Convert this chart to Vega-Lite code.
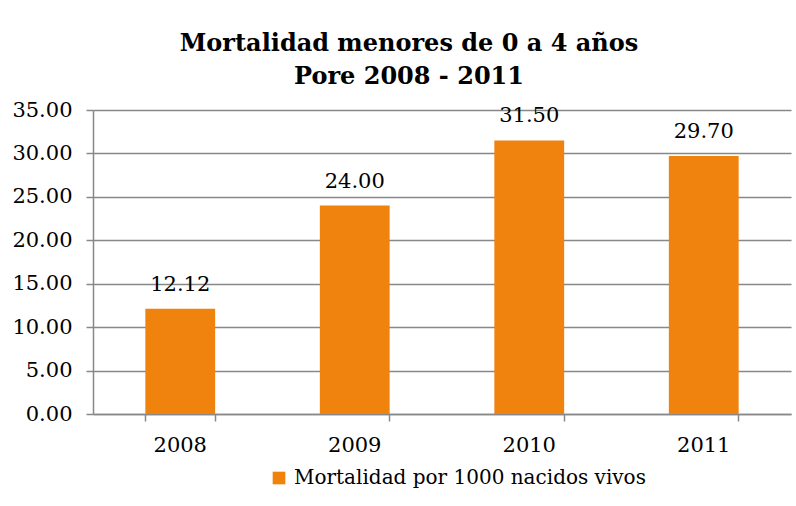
{
  "$schema": "https://vega.github.io/schema/vega-lite/v6.json",
  "autosize": "none",
  "width": 698,
  "height": 304,
  "padding": {"left": 93, "top": 110, "right": 5, "bottom": 92},
  "background": "white",
  "title": {
    "text": ["Mortalidad menores de 0 a 4 años", "Pore 2008 - 2011"],
    "font": "DejaVu Serif",
    "fontSize": 24,
    "fontWeight": "bold",
    "color": "#000000",
    "anchor": "middle",
    "dx": -33,
    "lineHeight": 33,
    "offset": 10
  },
  "data": {
    "values": [
      {"year": "2008", "value": 12.12, "series": "Mortalidad por 1000 nacidos vivos"},
      {"year": "2009", "value": 24.0, "series": "Mortalidad por 1000 nacidos vivos"},
      {"year": "2010", "value": 31.5, "series": "Mortalidad por 1000 nacidos vivos"},
      {"year": "2011", "value": 29.7, "series": "Mortalidad por 1000 nacidos vivos"}
    ]
  },
  "encoding": {
    "x": {
      "field": "year",
      "type": "nominal",
      "title": null,
      "scale": {"paddingInner": 0.6, "paddingOuter": 0.3},
      "axis": {
        "labelAngle": 0,
        "labelFont": "DejaVu Serif",
        "labelFontSize": 21,
        "labelColor": "#000000",
        "labelPadding": 13,
        "domainColor": "#888888",
        "domainWidth": 1.5,
        "tickColor": "#888888",
        "tickWidth": 1.5,
        "tickSize": 7,
        "bandPosition": 1,
        "tickExtra": true,
        "grid": false
      }
    },
    "y": {
      "field": "value",
      "type": "quantitative",
      "title": null,
      "scale": {"domain": [0, 35], "nice": false},
      "axis": {
        "values": [0, 5, 10, 15, 20, 25, 30, 35],
        "format": ".2f",
        "labelFont": "DejaVu Serif",
        "labelFontSize": 21,
        "labelColor": "#000000",
        "labelPadding": 14,
        "domainColor": "#888888",
        "domainWidth": 1.5,
        "tickColor": "#888888",
        "tickWidth": 1.5,
        "tickSize": 7,
        "grid": true,
        "gridColor": "#888888",
        "gridWidth": 1.5
      }
    }
  },
  "layer": [
    {
      "mark": {"type": "bar", "color": "#F0820E"},
      "encoding": {
        "color": {
          "field": "series",
          "type": "nominal",
          "scale": {"range": ["#F0820E"]},
          "legend": {
            "title": null,
            "orient": "none",
            "legendX": 176,
            "legendY": 358,
            "direction": "horizontal",
            "symbolType": "square",
            "symbolSize": 160,
            "symbolStrokeWidth": 0,
            "labelFont": "DejaVu Serif",
            "labelFontSize": 20,
            "labelColor": "#000000",
            "labelOffset": 5,
            "labelLimit": 0
          }
        }
      }
    },
    {
      "mark": {
        "type": "text",
        "font": "DejaVu Serif",
        "fontSize": 21,
        "color": "#000000",
        "baseline": "alphabetic",
        "dy": -18
      },
      "encoding": {
        "text": {"field": "value", "type": "quantitative", "format": ".2f"}
      }
    }
  ],
  "config": {"view": {"stroke": null}}
}
